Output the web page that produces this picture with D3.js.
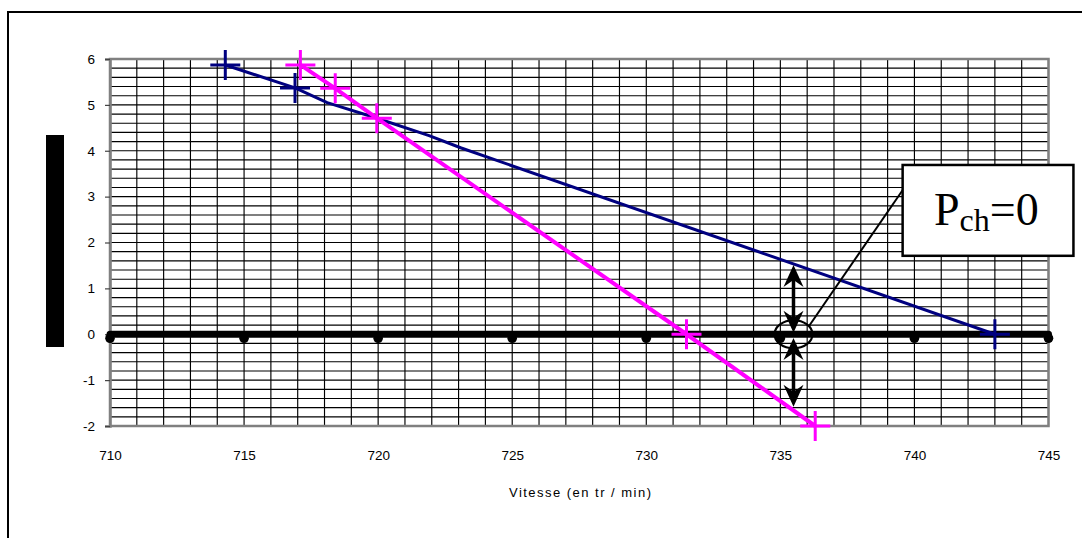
<!DOCTYPE html>
<html>
<head>
<meta charset="utf-8">
<script src="https://cdn.jsdelivr.net/npm/d3@7"></script>
<style>
  html, body { margin: 0; padding: 0; background: #fff; }
  svg { display: block; }
</style>
</head>
<body>
<svg id="chart" width="1082" height="538"></svg>
<script>
// ---------------- data ----------------
const xTicks = [710, 715, 720, 725, 730, 735, 740, 745];
const yTicks = [-2, -1, 0, 1, 2, 3, 4, 5, 6];
const xTitle = "Vitesse (en tr / min)";

// blue series (line vertices and visible markers)
const blueLine = [[714.3, 5.87], [716.9, 5.37], [718.1, 5.05], [719.9, 4.72], [721.9, 4.33], [723.1, 4.06], [743.0, 0.0]];
const blueMarkers = [[714.3, 5.87], [716.9, 5.37], [743.0, 0.0]];

// magenta series
const pinkLine = [[717.1, 5.87], [718.4, 5.36], [719.95, 4.71], [731.5, 0.0], [736.3, -2.0]];
const pinkMarkers = [[717.1, 5.87], [718.4, 5.36], [719.95, 4.71], [731.5, 0.0], [736.3, -2.0]];

// zero reference series
const zeroLine = [[710, 0], [715, 0], [720, 0], [725, 0], [730, 0], [735, 0], [740, 0], [745, 0]];

// annotation (data units)
const arrowX = 735.49;
const arrows = [[0.03, 1.51], [-0.08, -1.58]];   // [from, tip] ; heads at both ends
const noteBox = {x0: 739.56, x1: 745.93, y0: 3.69, y1: 1.71};
const callout = [[739.57, 3.15], [736.07, 0.18]];

// ---------------- layout ----------------
const svg = d3.select("#chart");
const x = d3.scaleLinear().domain([710, 745]).range([110, 1048.5]);
const y = d3.scaleLinear().domain([-2, 6]).range([426, 59]);
const W = x(745) - x(710), H = y(-2) - y(6);
const FONT = "Arial, 'Liberation Sans', sans-serif";

// outer frame
svg.append("rect").attr("x", 8).attr("y", 12).attr("width", 1200).attr("height", 600)
  .attr("fill", "none").attr("stroke", "#000").attr("stroke-width", 2);

// y title (masked block)
svg.append("rect").attr("x", 46).attr("y", 135).attr("width", 18).attr("height", 212).attr("fill", "#000");

const g = svg.append("g");

// grid: horizontal every 0.2, vertical every 1
const hGrid = d3.range(-2, 6.0001, 0.2);
const vGrid = d3.range(710, 745.0001, 1);
g.append("g").selectAll("line").data(hGrid).join("line")
  .attr("x1", x(710)).attr("x2", x(745))
  .attr("y1", d => y(d)).attr("y2", d => y(d))
  .attr("stroke", "#000").attr("stroke-width", 1.15);
g.append("g").selectAll("line").data(vGrid).join("line")
  .attr("y1", y(6)).attr("y2", y(-2))
  .attr("x1", d => x(d)).attr("x2", d => x(d))
  .attr("stroke", "#000").attr("stroke-width", 1.15);

// plot border
g.append("rect").attr("x", x(710)).attr("y", y(6)).attr("width", W).attr("height", H)
  .attr("fill", "none").attr("stroke", "#808080").attr("stroke-width", 2.5);

// y axis
const yAxis = d3.axisLeft(y).tickValues(yTicks).tickSize(5).tickPadding(10).tickFormat(d => String(d));
const ya = g.append("g").attr("transform", `translate(${x(710)},0)`).call(yAxis);
ya.select(".domain").attr("stroke", "#808080").attr("stroke-width", 2.5);
ya.selectAll(".tick line").attr("stroke", "#444").attr("stroke-width", 1.2);
ya.selectAll("text").attr("font-family", FONT).attr("font-size", 13.5).attr("fill", "#000");

// x axis labels
const xAxis = d3.axisBottom(x).tickValues(xTicks).tickSize(0).tickPadding(24).tickFormat(d => String(d));
const xa = g.append("g").attr("transform", `translate(0,${y(-2)})`).call(xAxis);
xa.select(".domain").remove();
xa.selectAll("text").attr("font-family", FONT).attr("font-size", 13.5).attr("fill", "#000");

// x title
svg.append("text").attr("x", 580).attr("y", 497)
  .attr("text-anchor", "middle")
  .attr("font-family", FONT).attr("font-size", 13)
  .attr("textLength", 142).attr("lengthAdjust", "spacing")
  .text(xTitle);

const line = d3.line().x(d => x(d[0])).y(d => y(d[1]));

// zero line
g.append("path").datum(zeroLine).attr("d", line).attr("fill", "none")
  .attr("stroke", "#000").attr("stroke-width", 7).attr("stroke-linecap", "round");
g.append("g").selectAll("circle").data(zeroLine).join("circle")
  .attr("cx", d => x(d[0])).attr("cy", d => y(d[1]) + 4).attr("r", 4.8).attr("fill", "#000");

// series lines
g.append("path").datum(blueLine).attr("d", line).attr("fill", "none")
  .attr("stroke", "#000080").attr("stroke-width", 3).attr("stroke-linejoin", "round");
g.append("path").datum(pinkLine).attr("d", line).attr("fill", "none")
  .attr("stroke", "#FF00FF").attr("stroke-width", 4).attr("stroke-linejoin", "round");

// plus markers
function plus(sel, data, color, sw) {
  sel.append("g").selectAll("path").data(data).join("path")
    .attr("d", d => {
      const cx = x(d[0]), cy = y(d[1]), s = 15;
      return `M${cx - s},${cy}H${cx + s}M${cx},${cy - s}V${cy + s}`;
    })
    .attr("stroke", color).attr("stroke-width", sw).attr("fill", "none");
}
plus(g, pinkMarkers, "#FF00FF", 3);
plus(g, blueMarkers, "#000080", 3);

// annotation: ellipse, arrows, callout, box
const ann = svg.append("g");
ann.append("ellipse").attr("cx", x(arrowX)).attr("cy", y(0)).attr("rx", 19).attr("ry", 14)
  .attr("fill", "none").attr("stroke", "#000").attr("stroke-width", 2.2);

function head(px, py, dir) { // dir: -1 up, +1 down ; tip at (px,py)
  const L = 22, w = 10, n = 15;
  return `M${px},${py}L${px - w},${py - dir * L}L${px},${py - dir * n}L${px + w},${py - dir * L}Z`;
}
arrows.forEach(([a, b]) => {
  const px = x(arrowX), ya0 = y(a), yb = y(b);
  const dir = yb < ya0 ? -1 : 1;
  ann.append("line").attr("x1", px).attr("x2", px).attr("y1", ya0 + dir * 10).attr("y2", yb - dir * 10)
    .attr("stroke", "#000").attr("stroke-width", 3.5);
  ann.append("path").attr("d", head(px, yb, dir)).attr("fill", "#000");
  ann.append("path").attr("d", head(px, ya0, -dir)).attr("fill", "#000");
});

ann.append("line")
  .attr("x1", x(callout[0][0])).attr("y1", y(callout[0][1]))
  .attr("x2", x(callout[1][0])).attr("y2", y(callout[1][1]))
  .attr("stroke", "#000").attr("stroke-width", 2);

ann.append("rect").attr("x", x(noteBox.x0)).attr("y", y(noteBox.y0))
  .attr("width", x(noteBox.x1) - x(noteBox.x0)).attr("height", y(noteBox.y1) - y(noteBox.y0))
  .attr("fill", "#fff").attr("stroke", "#000").attr("stroke-width", 2.5);

const t = ann.append("text").attr("x", 934).attr("y", 225)
  .attr("font-family", "'Times New Roman', 'Liberation Serif', serif").attr("font-size", 46).attr("fill", "#000");
t.append("tspan").text("P");
t.append("tspan").attr("font-size", 32).attr("dy", 6).text("ch");
t.append("tspan").attr("dy", -6).text("=0");
</script>
</body>
</html>
